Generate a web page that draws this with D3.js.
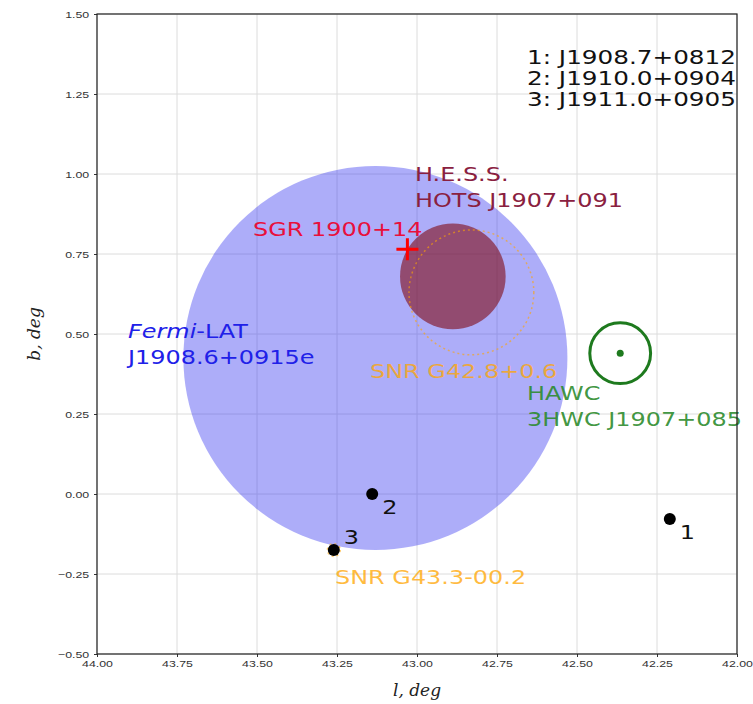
<!DOCTYPE html>
<html>
<head>
<meta charset="utf-8">
<script src="https://cdn.jsdelivr.net/npm/d3@7"></script>
<style>
  body { margin: 0; background: #fff; }
  svg { font-family: "DejaVu Sans", sans-serif; }
  .grid line { stroke: #dcdcdc; stroke-width: 1; }
  .axis text { font-size: 9.5px; fill: #333; }
  .axis line { stroke: #333; }
</style>
</head>
<body>
<svg id="chart" width="753" height="704"></svg>
<script>
// ticks on both axes (deg)
const lTicks = [44.00, 43.75, 43.50, 43.25, 43.00, 42.75, 42.50, 42.25, 42.00];
const bTicks = [-0.50, -0.25, 0.00, 0.25, 0.50, 0.75, 1.00, 1.25, 1.50];

// extended sources: [l, b, radius]
const fermi = [43.13, 0.425, 0.60];
const hess = [42.888, 0.68, 0.165];
const snrBig = [42.83, 0.63, 0.195];
const snrSmall = [43.26, -0.175, 0.02];
const hawc = [42.365, 0.44, 0.095];
const sgr = [43.03, 0.765];

// numbered point sources
const pointIds = ["1", "2", "3"];
const pointL = [42.21, 43.14, 43.26];
const pointB = [-0.078, 0.0, -0.175];
const legendLines = ["1: J1908.7+0812", "2: J1910.0+0904", "3: J1911.0+0905"];

const margin = {left: 97, right: 16, top: 14, bottom: 50};
const W = 753, H = 704;
const STRETCH = 1.26;   // text in the source picture is drawn wide
const svg = d3.select("#chart");

const x = d3.scaleLinear().domain([44, 42]).range([margin.left, W - margin.right]);
const y = d3.scaleLinear().domain([-0.5, 1.5]).range([H - margin.bottom, margin.top]);
const rpx = r => Math.abs(x(0) - x(r));

// grid
const grid = svg.append("g").attr("class", "grid");
grid.selectAll(".gx").data(lTicks).join("line")
    .attr("x1", d => x(d)).attr("x2", d => x(d))
    .attr("y1", y(-0.5)).attr("y2", y(1.5));
grid.selectAll(".gy").data(bTicks).join("line")
    .attr("y1", d => y(d)).attr("y2", d => y(d))
    .attr("x1", x(44)).attr("x2", x(42));

// Fermi-LAT extended source
svg.append("circle")
    .attr("cx", x(fermi[0])).attr("cy", y(fermi[1])).attr("r", rpx(fermi[2]))
    .attr("fill", "rgb(60,60,240)").attr("fill-opacity", 0.42);

// H.E.S.S.
svg.append("circle")
    .attr("cx", x(hess[0])).attr("cy", y(hess[1])).attr("r", rpx(hess[2]))
    .attr("fill", "rgb(128,10,20)").attr("fill-opacity", 0.6);

// SNRs, dashed
[snrBig, snrSmall].forEach(s => {
  svg.append("circle")
      .attr("cx", x(s[0])).attr("cy", y(s[1])).attr("r", rpx(s[2]))
      .attr("fill", "none").attr("stroke", "orange").attr("stroke-opacity", 0.6)
      .attr("stroke-width", 1.5).attr("stroke-dasharray", "2,3");
});

// HAWC
svg.append("circle")
    .attr("cx", x(hawc[0])).attr("cy", y(hawc[1])).attr("r", rpx(hawc[2]))
    .attr("fill", "none").attr("stroke", "#1e7a1e").attr("stroke-width", 3);
svg.append("circle")
    .attr("cx", x(hawc[0])).attr("cy", y(hawc[1])).attr("r", 3.5)
    .attr("fill", "#1e7a1e");

// SGR cross
const sx = x(sgr[0]), sy = y(sgr[1]);
svg.append("path")
    .attr("d", `M${sx - 11},${sy}H${sx + 11}M${sx},${sy - 11}V${sy + 11}`)
    .attr("stroke", "red").attr("stroke-width", 3);

// text labels, stretched horizontally like the source
function label(xv, yv, lines, color, opts) {
  opts = opts || {};
  const t = svg.append("text")
      .attr("transform", `translate(${xv},${yv}) scale(${opts.sx || STRETCH},1)`)
      .attr("font-size", opts.size || 19).attr("fill", color);
  if (opts.opacity) t.attr("fill-opacity", opts.opacity);
  lines.forEach((ln, i) => {
    t.append("tspan").attr("x", 0).attr("dy", i ? (opts.lh || 26) : 0).text(ln);
  });
  return t;
}

// point sources
const labelOff = [[10, 20], [10, 20], [10, -6]];
pointIds.forEach((id, i) => {
  const px = x(pointL[i]), py = y(pointB[i]);
  svg.append("circle").attr("cx", px).attr("cy", py).attr("r", 6).attr("fill", "black");
  label(px + labelOff[i][0], py + labelOff[i][1], [id], "#111");
});

label(415, 181, ["H.E.S.S.", "HOTS J1907+091"], "#8a2040");
label(253, 236, ["SGR 1900+14"], "#e8103c");
const fl = svg.append("text")
    .attr("transform", `translate(128,338) scale(${STRETCH},1)`)
    .attr("font-size", 19).attr("fill", "#2020e8");
fl.append("tspan").attr("font-style", "italic").text("Fermi");
fl.append("tspan").text("-LAT");
label(128, 364, ["J1908.6+0915e"], "#2020e8");
label(370, 378, ["SNR G42.8+0.6"], "orange", {opacity: 0.75});
label(527, 400, ["HAWC", "3HWC J1907+085"], "#2a8a2a", {opacity: 0.9});
label(335, 584, ["SNR G43.3-00.2"], "orange", {opacity: 0.75});
label(527, 64, legendLines, "#111", {sx: 1.3, lh: 21});

// axes
const xAxis = d3.axisBottom(x).tickValues(lTicks).tickFormat(d3.format(".2f")).tickSize(3);
const yAxis = d3.axisLeft(y).tickValues(bTicks).tickFormat(d3.format(".2f")).tickSize(3);
svg.append("g").attr("class", "axis").attr("transform", `translate(0,${y(-0.5)})`).call(xAxis)
    .call(g => g.select(".domain").remove())
    .call(g => g.selectAll("text").attr("transform", "scale(1.3,1)"));
svg.append("g").attr("class", "axis").attr("transform", `translate(${x(44)},0)`).call(yAxis)
    .call(g => g.select(".domain").remove())
    .call(g => g.selectAll("text").attr("transform", "scale(1.3,1)"));

// frame
svg.append("rect")
    .attr("x", x(44)).attr("y", y(1.5))
    .attr("width", x(42) - x(44)).attr("height", y(-0.5) - y(1.5))
    .attr("fill", "none").attr("stroke", "#222").attr("stroke-width", 1.2);

// axis titles
const xt = svg.append("text").attr("x", (x(44) + x(42)) / 2).attr("y", 696)
    .attr("text-anchor", "middle").attr("font-family", "DejaVu Serif, serif")
    .attr("font-size", 17).attr("fill", "#222");
xt.append("tspan").attr("font-style", "italic").text("l");
xt.append("tspan").attr("font-style", "italic").text(", deg");
svg.append("text")
    .attr("transform", `translate(40,${(y(-0.5) + y(1.5)) / 2}) rotate(-90)`)
    .attr("text-anchor", "middle").attr("font-family", "DejaVu Serif, serif")
    .attr("font-style", "italic").attr("font-size", 17).attr("fill", "#222")
    .text("b, deg");
</script>
</body>
</html>
